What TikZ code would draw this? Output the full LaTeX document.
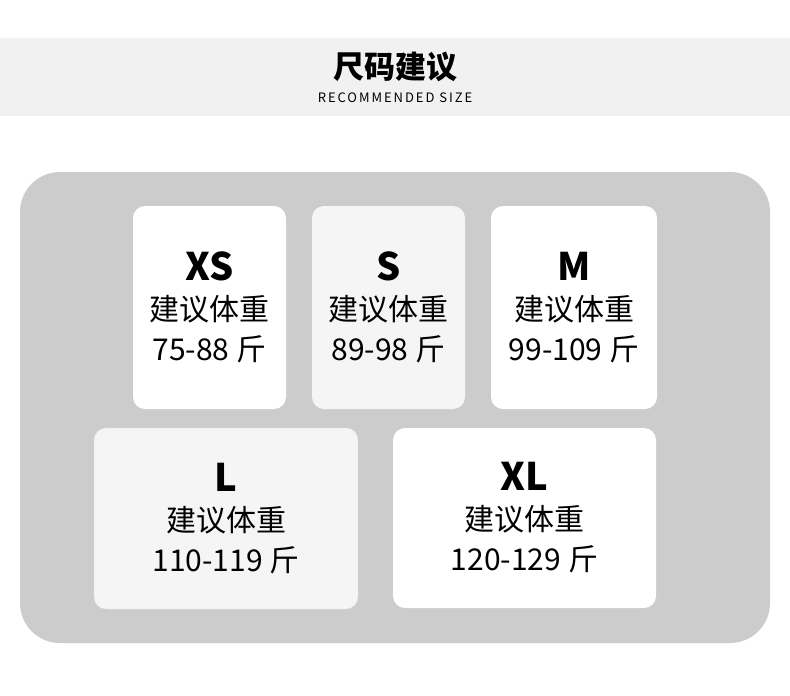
\documentclass[tikz,border=0pt]{standalone}
\usepackage{fontspec}
\usepackage{xcolor}
\usepackage{tikz}
\usetikzlibrary{positioning}
\newfontfamily\cjk{Noto Sans CJK SC}
\definecolor{panelgray}{HTML}{CCCCCC}
\definecolor{headgray}{HTML}{F1F1F1}
\definecolor{softwhite}{HTML}{F5F5F5}

\begin{document}
\begin{tikzpicture}[x=1pt,y=-1pt,
    sizebox/.style={rounded corners=12pt, minimum width=#1, inner sep=0pt},
    sizetext/.style={align=center, font=\cjk\fontsize{30}{40}\selectfont, text=black}]
    % Canvas
    \useasboundingbox (0,0) rectangle (790,696);
    \fill[white] (0,0) rectangle (790,696);

    % Header band
    \fill[headgray] (0,38) rectangle (790,116);
    \node[font=\cjk\bfseries\fontsize{31}{31}\selectfont] (title) at (395,67) {尺码建议};
    \node[font=\cjk\fontsize{13}{13}\selectfont\addfontfeature{LetterSpace=15}] (subtitle) at (395,98) {RECOMMENDED SIZE};

    % Gray panel
    \fill[panelgray, rounded corners=40pt] (20,172) rectangle (770,643);

    % Top row
    \node[sizebox=153pt, minimum height=203pt, fill=white] (xs) at (209.5,307.5) {};
    \node[sizebox=153pt, minimum height=203pt, fill=softwhite] (s) at (388.5,307.5) {};
    \node[sizebox=166pt, minimum height=203pt, fill=white] (m) at (574,307.5) {};

    % Bottom row
    \node[sizebox=264pt, minimum height=181pt, fill=softwhite, draw=black!12] (l) at (226,518.5) {};
    \node[sizebox=263pt, minimum height=180pt, fill=white] (xl) at (524.5,518) {};

    % Labels
    \node[sizetext] (xstext) at (xs.center) {{\bfseries\fontsize{38}{40}\selectfont XS}\\建议体重\\75-88 斤};
    \node[sizetext] (stext) at (s.center) {{\bfseries\fontsize{38}{40}\selectfont S}\\建议体重\\89-98 斤};
    \node[sizetext] (mtext) at (m.center) {{\bfseries\fontsize{38}{40}\selectfont M}\\建议体重\\99-109 斤};
    \node[sizetext] (ltext) at (l.center) {{\bfseries\fontsize{38}{40}\selectfont L}\\建议体重\\110-119 斤};
    \node[sizetext] (xltext) at (xl.center) {{\bfseries\fontsize{38}{40}\selectfont XL}\\建议体重\\120-129 斤};
\end{tikzpicture}
\end{document}
